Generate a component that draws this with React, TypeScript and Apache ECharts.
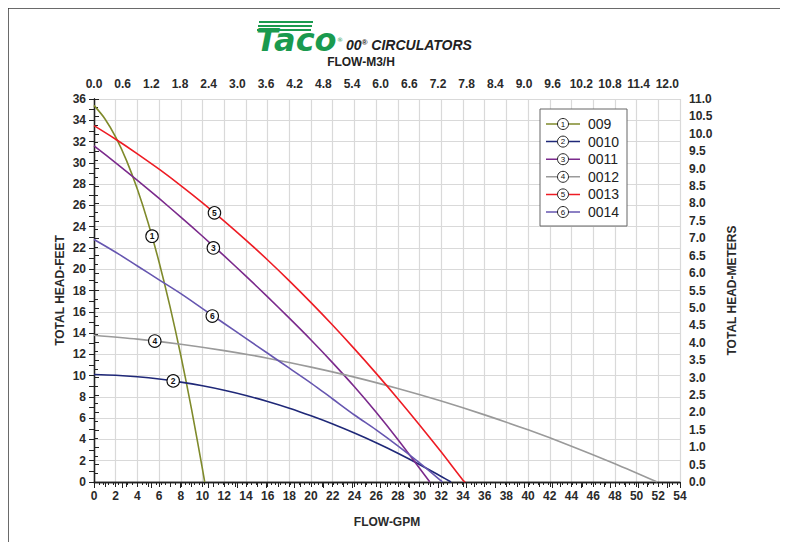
import React, { useEffect, useRef } from "react";
import * as echarts from "echarts";

// ---------- data ----------
const seriesNames = ["009", "0010", "0011", "0012", "0013", "0014"];
const seriesColors = ["#7f8a2b", "#1f2878", "#7b2a8c", "#9a9a9a", "#ee1c24", "#6656b0"];

const curve009 = [[0, 35.4], [1, 34.15], [2, 32.41], [3, 30.21], [4, 27.51], [5, 24.32], [6, 20.66], [7, 16.51], [8, 11.89], [9, 6.78], [10, 1.18], [10.2, 0]];
const curve0010 = [[0, 10.1], [2, 10.03], [4, 9.89], [6, 9.68], [8, 9.39], [10, 9.04], [12, 8.62], [14, 8.13], [16, 7.56], [18, 6.93], [20, 6.22], [22, 5.45], [24, 4.6], [26, 3.69], [28, 2.71], [30, 1.65], [32, 0.52], [32.9, 0]];
const curve0011 = [[0, 31.6], [2, 30.0], [4, 28.35], [6, 26.65], [8, 24.9], [10, 23.1], [12, 21.25], [14, 19.35], [16, 17.4], [18, 15.4], [20, 13.35], [22, 11.2], [24, 8.95], [26, 6.55], [28, 4.0], [30, 1.3], [30.95, 0]];
const curve0012 = [[0, 13.8], [4, 13.43], [8, 12.95], [12, 12.35], [16, 11.64], [20, 10.8], [24, 9.86], [28, 8.79], [32, 7.61], [36, 6.31], [40, 4.9], [44, 3.37], [48, 1.72], [51.9, 0]];
const curve0013 = [[0, 33.5], [2, 32.22], [4, 30.85], [6, 29.4], [8, 27.86], [10, 26.24], [12, 24.53], [14, 22.74], [16, 20.87], [18, 18.91], [20, 16.86], [22, 14.73], [24, 12.51], [26, 10.21], [28, 7.83], [30, 5.36], [32, 2.81], [34, 0.17], [34.2, 0]];
const curve0014 = [[0, 22.8], [2, 21.6], [4, 20.3], [6, 19.0], [8, 17.7], [10, 16.3], [12, 14.9], [14, 13.5], [16, 12.1], [18, 10.7], [20, 9.3], [22, 7.8], [24, 6.3], [26, 4.9], [28, 3.4], [30, 1.8], [32, 0.1], [32.1, 0]];
const curves = [curve009, curve0010, curve0011, curve0012, curve0013, curve0014];

// circled-number label positions on each curve [gpm, ft]
const labelPoints = [[5.35, 23.1], [7.3, 9.5], [11.0, 22.0], [5.6, 13.25], [11.1, 25.3], [10.9, 15.6]];
const labelNumbers = ["1", "2", "3", "4", "5", "6"];

const gpmMin = 0, gpmMax = 54, gpmStep = 2;
const ftMin = 0, ftMax = 36, ftStep = 2;
const mMin = 0, mMax = 11, mStep = 0.5;
const m3hStep = 0.6;
const GPM_PER_M3H = 4.4029;

const topAxisTitle = "FLOW-M3/H";
const bottomAxisTitle = "FLOW-GPM";
const leftAxisTitle = "TOTAL HEAD-FEET";
const rightAxisTitle = "TOTAL HEAD-METERS";

const FONT = '"Liberation Sans", Arial, Helvetica, sans-serif';

export default function App() {
  const ref = useRef<HTMLDivElement>(null);

  useEffect(() => {
    if (!ref.current) return;
    const chart = echarts.init(ref.current, undefined, { renderer: "svg" });

    const labelStyle = { fontFamily: FONT, fontWeight: "bold" as const, fontSize: 12, color: "#2a2a2a" };
    const axisLine = { show: true, lineStyle: { color: "#222", width: 1.3 } };

    // legend built from series arrays
    const legendX = 540, legendY = 109, rowH = 17.6;
    const LZ = 100;
    const legendElems: any[] = [
      { type: "rect", z: LZ, shape: { x: legendX, y: legendY, width: 87, height: 117 }, style: { fill: "#fff", stroke: "#666", lineWidth: 1 } },
    ];
    seriesNames.forEach((name, i) => {
      const cy = legendY + 15 + i * rowH;
      legendElems.push(
        { type: "line", z: LZ + 1, shape: { x1: legendX + 6, y1: cy, x2: legendX + 40, y2: cy }, style: { stroke: seriesColors[i], lineWidth: 1.5 } },
        { type: "circle", z: LZ + 2, shape: { cx: legendX + 23, cy, r: 5.5 }, style: { fill: "#fff", stroke: "#222", lineWidth: 1 } },
        { type: "text", z: LZ + 3, x: legendX + 23, y: cy, style: { text: labelNumbers[i], fontSize: 8, fontFamily: FONT, fill: "#111", align: "center", verticalAlign: "middle" } },
        { type: "text", z: LZ + 3, x: legendX + 48, y: cy, style: { text: name, fontSize: 14, fontFamily: FONT, fill: "#222", align: "left", verticalAlign: "middle" } }
      );
    });

    const option: any = {
      animation: false,
      backgroundColor: "#fff",
      grid: { left: 94, right: 108, top: 99, bottom: 68, containLabel: false },
      xAxis: [
        {
          type: "value", position: "bottom", min: gpmMin, max: gpmMax, interval: gpmStep,
          axisLine, axisLabel: { ...labelStyle, margin: 8 },
          axisTick: { show: true, length: 5, lineStyle: { color: "#222" } },
          minorTick: { show: true, splitNumber: 2, length: 5, lineStyle: { color: "#222" } },
          splitLine: { show: true, lineStyle: { color: "#d9d9d9", width: 1.2 } },
          name: bottomAxisTitle, nameLocation: "middle", nameGap: 34, nameMoveOverlap: false,
          nameTextStyle: { ...labelStyle, fontSize: 12 },
        },
        {
          type: "value", position: "top", min: 0, max: gpmMax / GPM_PER_M3H, interval: m3hStep,
          axisLine, axisLabel: { ...labelStyle, margin: 9, showMaxLabel: false, formatter: (v: number) => v.toFixed(1) },
          axisTick: { show: true, inside: true, length: 6, lineStyle: { color: "#222" } },
          minorTick: { show: true, splitNumber: 6, length: 3, lineStyle: { color: "#222" } },
          splitLine: { show: false },
        },
      ],
      yAxis: [
        {
          type: "value", position: "left", min: ftMin, max: ftMax, interval: ftStep,
          axisLine, axisLabel: { ...labelStyle, margin: 8 },
          axisTick: { show: true, length: 5, lineStyle: { color: "#222" } },
          minorTick: { show: true, splitNumber: 2, length: 5, lineStyle: { color: "#222" } },
          splitLine: { show: true, lineStyle: { color: "#d9d9d9", width: 1.2 } },
          name: leftAxisTitle, nameLocation: "middle", nameGap: 28, nameRotate: 90, nameMoveOverlap: false,
          nameTextStyle: { ...labelStyle, fontSize: 12 },
        },
        {
          type: "value", position: "right", min: mMin, max: mMax, interval: mStep,
          axisLine, axisLabel: { ...labelStyle, margin: 9, formatter: (v: number) => v.toFixed(1) },
          axisTick: { show: true, length: 5, lineStyle: { color: "#222" } },
          minorTick: { show: true, splitNumber: 2, length: 4, lineStyle: { color: "#222" } },
          splitLine: { show: false },
          name: rightAxisTitle, nameLocation: "middle", nameGap: 46, nameRotate: 90, nameMoveOverlap: false,
          nameTextStyle: { ...labelStyle, fontSize: 12 },
        },
      ],
      series: curves.map((c, i) => ({
        name: seriesNames[i],
        type: "line",
        xAxisIndex: 0,
        yAxisIndex: 0,
        data: c,
        smooth: 0.3,
        showSymbol: false,
        lineStyle: { color: seriesColors[i], width: 1.6 },
        itemStyle: { color: seriesColors[i] },
        z: 2 + i,
        markPoint: {
          symbol: "circle",
          symbolSize: 12.5,
          itemStyle: { color: "#fff", borderColor: "#111", borderWidth: 1.1 },
          label: { show: true, formatter: labelNumbers[i], fontSize: 8.5, fontFamily: FONT, fontWeight: "bold", color: "#111" },
          data: [{ coord: labelPoints[i] }],
          z: 20,
        },
      })),
      graphic: [
        { type: "rect", z: 1, shape: { x: 8, y: 8, width: 820, height: 600 }, style: { fill: "none", stroke: "#3a3a3a", lineWidth: 1.5 }, silent: true },
        // Taco logo stripes
        { type: "rect", shape: { x: 259, y: 21, width: 54, height: 2 }, style: { fill: "#1a9a4e" } },
        { type: "rect", shape: { x: 258, y: 25, width: 54, height: 2 }, style: { fill: "#1a9a4e" } },
        { type: "rect", shape: { x: 257, y: 29, width: 54, height: 2 }, style: { fill: "#1a9a4e" } },
        { type: "text", x: 256, y: 56, style: { text: "Taco", font: 'italic 900 32px "DejaVu Sans", sans-serif', fill: "#1a9a4e", textVerticalAlign: "bottom" } },
        { type: "text", x: 337, y: 36, style: { text: "®", font: '6px "DejaVu Sans"', fill: "#1a9a4e" } },
        {
          type: "text", x: 346, y: 45,
          style: {
            text: "{a|00}{s|®}{a| CIRCULATORS}",
            verticalAlign: "middle",
            rich: {
              a: { font: 'italic bold 14px "Liberation Sans", Arial, sans-serif', fill: "#222", color: "#222" },
              s: { font: 'italic bold 8px "Liberation Sans", Arial, sans-serif', fill: "#222", color: "#222", verticalAlign: "top", padding: [0, 0, 6, 0] },
            },
          },
        },
        { type: "text", x: 361, y: 62, style: { text: topAxisTitle, font: 'bold 12px "Liberation Sans", Arial, sans-serif', fill: "#222", align: "center", verticalAlign: "middle" } },
        ...legendElems,
      ],
    };

    chart.setOption(option);
    return () => chart.dispose();
  }, []);

  return <div ref={ref} style={{ width: 788, height: 550, margin: -8 }} />;
}
